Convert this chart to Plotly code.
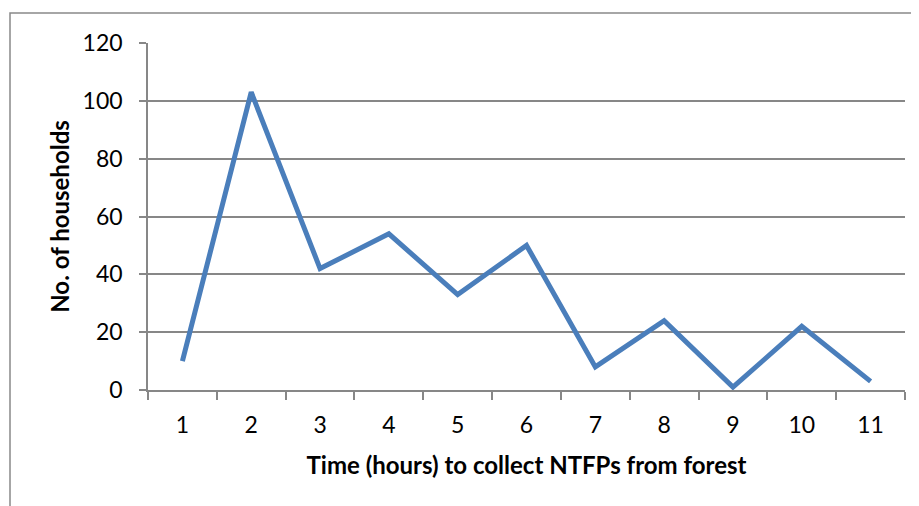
import plotly.graph_objects as go

hours = ["1", "2", "3", "4", "5", "6", "7", "8", "9", "10", "11"]
households = [10, 103, 42, 54, 33, 50, 8, 24, 1, 22, 3]
y_ticks = [0, 20, 40, 60, 80, 100, 120]

OFF = 8  # page body margin
W, H = 919, 506
L, T = 148 - OFF, 43 - OFF
R = W - (905 - OFF)
B = H - (390 - OFF)
pw = W - L - R
ph = H - T - B

fig = go.Figure()
fig.add_trace(go.Scatter(
    x=hours, y=households, mode="lines",
    line=dict(color="#4A7EBB", width=5),
    showlegend=False,
))

font_family = "Lato, Open Sans, sans-serif"
grid = "#878787"

fig.update_layout(
    width=W, height=H,
    margin=dict(l=L, r=R, t=T, b=B, autoexpand=False),
    paper_bgcolor="white", plot_bgcolor="white",
    font=dict(family=font_family, size=23, color="black"),
    xaxis=dict(
        type="category", range=[-0.5, 10.5], tickson="boundaries",
        ticks="outside", ticklen=8, tickcolor=grid, tickwidth=1.5,
        showline=True, linecolor=grid, linewidth=1.5,
        showgrid=False, zeroline=False,
        tickfont=dict(size=23), ticklabelstandoff=14,
        title=dict(text="<b>Time (hours) to collect NTFPs from forest</b>",
                   font=dict(size=24), standoff=20),
    ),
    yaxis=dict(
        range=[0, 120], tickvals=y_ticks,
        ticks="outside", ticklen=7, tickcolor=grid, tickwidth=1.5,
        showline=True, linecolor=grid, linewidth=1.5,
        showgrid=True, gridcolor=grid, gridwidth=1.5,
        zeroline=False, tickfont=dict(size=23), ticklabelstandoff=12,
        title=dict(text="<b>No. of households</b>", font=dict(size=24), standoff=6),
    ),
    shapes=[dict(
        type="rect", xref="paper", yref="paper",
        x0=(10 - 148) / pw, x1=1.3, y0=-0.6, y1=1 + (43 - 13) / ph,
        line=dict(color="#898989", width=1.5), fillcolor="rgba(0,0,0,0)",
        layer="below",
    )],
)

fig.write_html("out.html")
